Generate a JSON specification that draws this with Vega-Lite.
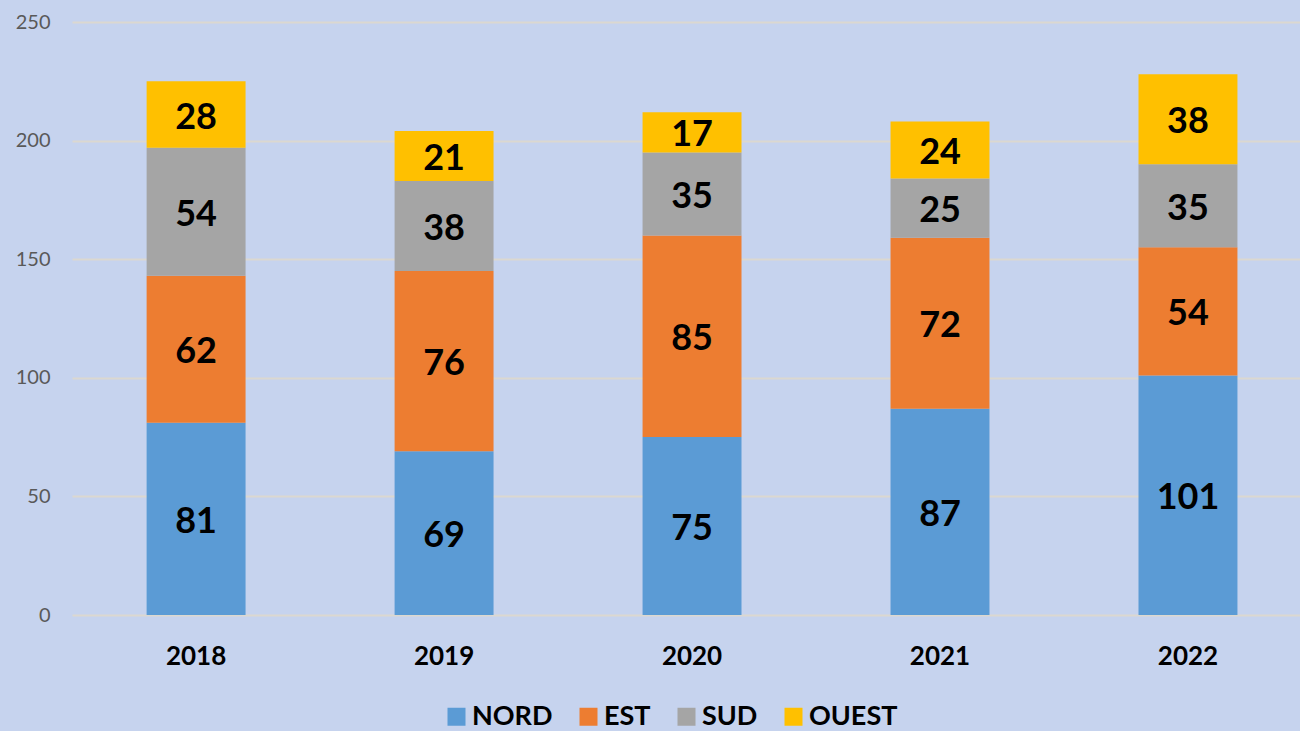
{
  "$schema": "https://vega.github.io/schema/vega-lite/v6.json",
  "width": 1228,
  "height": 593,
  "autosize": {"type": "none"},
  "padding": {"left": 72, "top": 22, "right": 0, "bottom": 116},
  "background": "#c6d3ee",
  "config": {"view": {"stroke": null}, "font": "Lato"},
  "data": {
    "values": [
      {"year": "2018", "region": "NORD", "idx": 1, "value": 81},
      {"year": "2018", "region": "EST", "idx": 2, "value": 62},
      {"year": "2018", "region": "SUD", "idx": 3, "value": 54},
      {"year": "2018", "region": "OUEST", "idx": 4, "value": 28},
      {"year": "2019", "region": "NORD", "idx": 1, "value": 69},
      {"year": "2019", "region": "EST", "idx": 2, "value": 76},
      {"year": "2019", "region": "SUD", "idx": 3, "value": 38},
      {"year": "2019", "region": "OUEST", "idx": 4, "value": 21},
      {"year": "2020", "region": "NORD", "idx": 1, "value": 75},
      {"year": "2020", "region": "EST", "idx": 2, "value": 85},
      {"year": "2020", "region": "SUD", "idx": 3, "value": 35},
      {"year": "2020", "region": "OUEST", "idx": 4, "value": 17},
      {"year": "2021", "region": "NORD", "idx": 1, "value": 87},
      {"year": "2021", "region": "EST", "idx": 2, "value": 72},
      {"year": "2021", "region": "SUD", "idx": 3, "value": 25},
      {"year": "2021", "region": "OUEST", "idx": 4, "value": 24},
      {"year": "2022", "region": "NORD", "idx": 1, "value": 101},
      {"year": "2022", "region": "EST", "idx": 2, "value": 54},
      {"year": "2022", "region": "SUD", "idx": 3, "value": 35},
      {"year": "2022", "region": "OUEST", "idx": 4, "value": 38}
    ]
  },
  "encoding": {
    "x": {
      "field": "year",
      "type": "nominal",
      "scale": {"paddingInner": 0.601, "paddingOuter": 0.2766, "align": 0.544},
      "axis": {
        "title": null,
        "labelAngle": 0,
        "labelFontSize": 26,
        "labelFontWeight": "bold",
        "labelColor": "#000000",
        "labelPadding": 28,
        "ticks": false,
        "domain": false,
        "grid": false
      }
    },
    "order": {"field": "idx", "type": "quantitative"}
  },
  "layer": [
    {
      "mark": {"type": "bar"},
      "encoding": {
        "y": {
          "field": "value",
          "type": "quantitative",
          "stack": "zero",
          "scale": {"domain": [0, 250], "nice": false},
          "axis": {
            "title": null,
            "values": [0, 50, 100, 150, 200, 250],
            "labelFontSize": 20,
            "labelColor": "#595959",
            "labelPadding": 22,
            "ticks": false,
            "domain": false,
            "gridColor": "#dbd8d0",
            "gridWidth": 2,
            "gridOpacity": 1
          }
        },
        "color": {
          "field": "region",
          "type": "nominal",
          "scale": {
            "domain": ["NORD", "EST", "SUD", "OUEST"],
            "range": ["#5B9BD5", "#ED7D31", "#A5A5A5", "#FFC000"]
          },
          "legend": {
            "title": null,
            "orient": "none",
            "legendX": 371,
            "legendY": 681,
            "direction": "horizontal",
            "symbolType": "square",
            "symbolSize": 324,
            "symbolStrokeWidth": 0,
            "symbolOpacity": 1,
            "labelFontSize": 27,
            "labelFontWeight": "bold",
            "labelColor": "#000000",
            "labelOffset": 2,
            "columnPadding": 22
          }
        }
      }
    },
    {
      "mark": {"type": "text", "fontSize": 36, "fontWeight": "bold", "color": "#000000", "dy": 3},
      "encoding": {
        "y": {"field": "value", "type": "quantitative", "stack": "zero", "bandPosition": 0.5},
        "text": {"field": "value", "type": "quantitative"}
      }
    }
  ]
}
